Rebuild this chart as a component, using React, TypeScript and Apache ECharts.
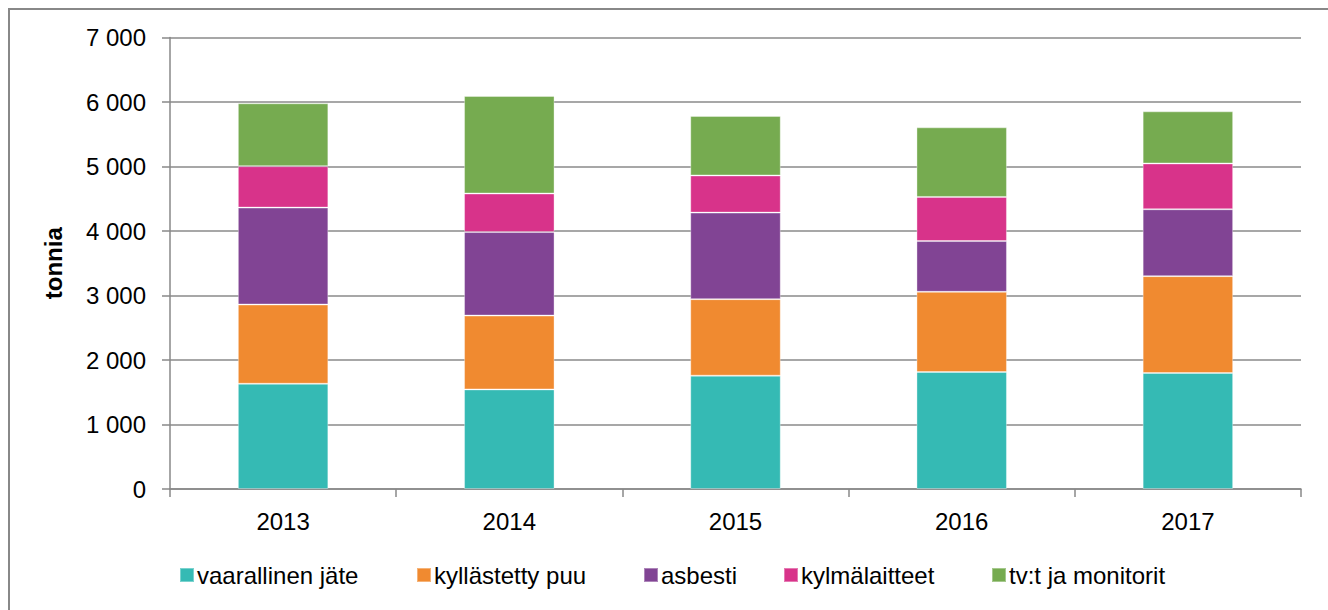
import React, { useEffect, useRef } from "react";
import * as echarts from "echarts";

const years = ["2013", "2014", "2015", "2016", "2017"];
const vaarallinenJate = [1632, 1544, 1757, 1814, 1798];
const kyllastettyPuu = [1228, 1145, 1186, 1243, 1502];
const asbesti = [1503, 1295, 1342, 787, 1037];
const kylmalaitteet = [642, 597, 576, 684, 710];
const tvMonitorit = [975, 1512, 922, 1079, 808];

const seriesNames = ["vaarallinen jäte", "kyllästetty puu", "asbesti", "kylmälaitteet", "tv:t ja monitorit"];
const seriesData = [vaarallinenJate, kyllastettyPuu, asbesti, kylmalaitteet, tvMonitorit];
const seriesColors = ["#35BAB4", "#F08A30", "#814494", "#D8338A", "#76AB50"];
const legendLefts = [174, 411, 638, 778, 986];

const FONT = "Liberation Sans, Arial, sans-serif";
const FS = 24;

export default function App() {
  const ref = useRef<HTMLDivElement>(null);
  useEffect(() => {
    if (!ref.current) return;
    const chart = echarts.init(ref.current, undefined, { renderer: "svg" });
    chart.setOption({
      animation: false,
      backgroundColor: "#ffffff",
      textStyle: { fontFamily: FONT },
      grid: { left: 170, top: 37.5, width: 1131, height: 451.5, containLabel: false },
      legend: seriesNames.map((n, i) => ({
        left: legendLefts[i],
        top: 558,
        icon: "rect",
        itemWidth: 14,
        itemHeight: 14,
        selectedMode: false,
        textStyle: { fontSize: FS, color: "#000", fontFamily: FONT, padding: [0, 0, 0, -2] },
        data: [n],
      })),
      xAxis: {
        type: "category",
        data: years,
        axisLine: { lineStyle: { color: "#888", width: 1.5 } },
        axisTick: { show: true, length: 8, alignWithLabel: false, lineStyle: { color: "#888", width: 1.5 } },
        axisLabel: { fontSize: FS, color: "#000", margin: 20, fontFamily: FONT },
      },
      yAxis: {
        type: "value",
        min: 0,
        max: 7000,
        interval: 1000,
        name: "tonnia",
        nameLocation: "middle",
        nameGap: 105,
        nameTextStyle: { fontSize: FS, fontWeight: "bold", color: "#000", fontFamily: FONT },
        axisLine: { show: true, lineStyle: { color: "#888", width: 1.5 } },
        axisTick: { show: true, length: 8, lineStyle: { color: "#888", width: 1.5 } },
        splitLine: { lineStyle: { color: "#8a8a8a", width: 1.5 } },
        axisLabel: {
          fontSize: FS,
          color: "#000",
          margin: 24,
          fontFamily: FONT,
          formatter: (v: number) => String(v).replace(/\B(?=(\d{3})+(?!\d))/g, " "),
        },
      },
      graphic: [
        {
          type: "rect",
          shape: { x: 9, y: 9, width: 1340, height: 620 },
          style: { fill: "none", stroke: "#888", lineWidth: 2 },
          silent: true,
        },
      ],
      series: seriesNames.map((n, i) => ({
        name: n,
        type: "bar",
        stack: "total",
        data: seriesData[i],
        barWidth: "40%",
        itemStyle: { color: seriesColors[i], borderColor: "rgba(255,255,255,0.35)", borderWidth: 1 },
      })),
    });
    return () => chart.dispose();
  }, []);
  return (
    <div
      ref={ref}
      style={{ position: "absolute", left: 0, top: 0, width: 1328, height: 610 }}
    />
  );
}
